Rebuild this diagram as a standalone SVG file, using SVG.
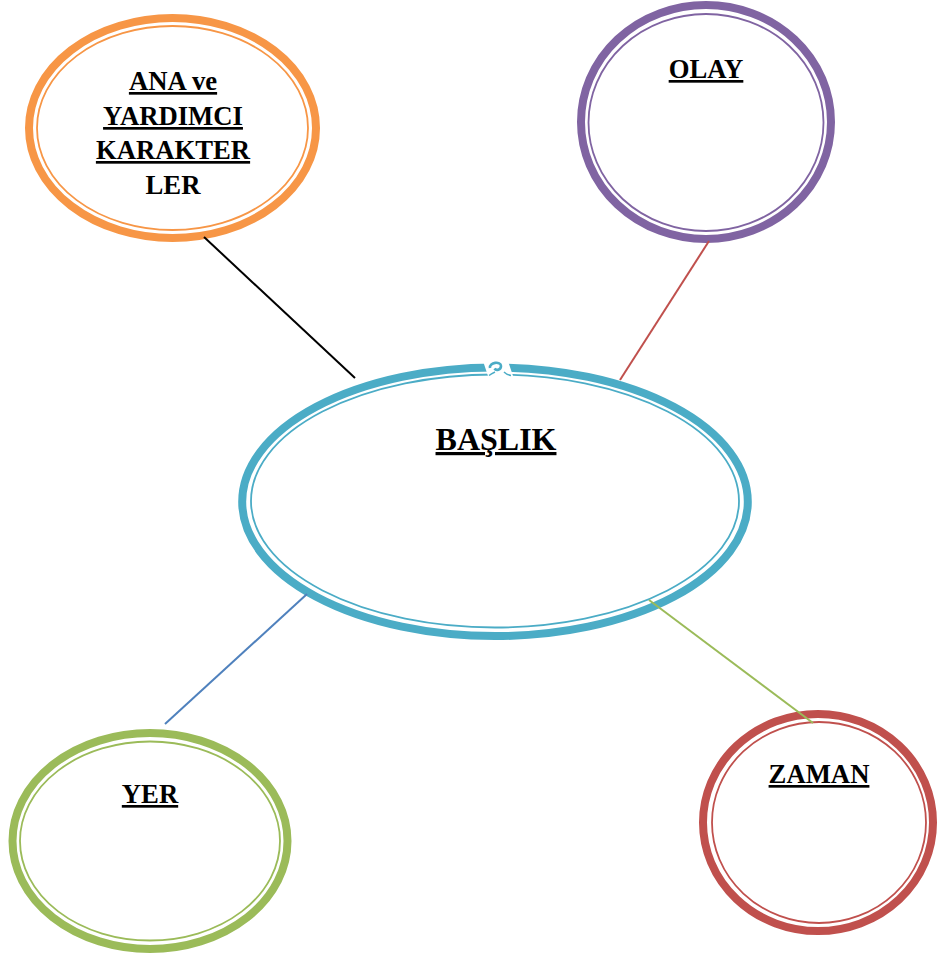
<svg xmlns="http://www.w3.org/2000/svg" width="937" height="955" viewBox="0 0 937 955">
  <style>
    .thick { fill: none; stroke-width: 8; }
    .thin { fill: none; stroke-width: 1.8; }
    .label { font-family: "Liberation Serif", "Times New Roman", serif; font-weight: bold; font-size: 26.7px; fill: #000; text-anchor: middle; }
    .ul { text-decoration: underline; }
    .title { font-size: 32px; }
    .conn { fill: none; stroke-width: 2; stroke-linecap: butt; }
  </style>
  <rect width="937" height="955" fill="#fff"/>

  <!-- central topic -->
  <g id="node-baslik">
    <ellipse class="thick" cx="495" cy="501.8" rx="252.8" ry="134.3" stroke="#4BACC6" fill="#fff"/>
    <ellipse class="thin" cx="495" cy="501" rx="244" ry="126.5" stroke="#4BACC6"/>
    <!-- seam where the double ring closes at the top -->
    <polygon points="482,358 507,358 514,379 489,379" fill="#fff"/>
    <path d="M490,368 C489,362 501,361 501,366 C501,370 496,371 494.5,368.5" fill="none" stroke="#4BACC6" stroke-width="2.6"/>
    <path d="M489,375.5 C491,374 493,373 495,372" fill="none" stroke="#4BACC6" stroke-width="1.5"/>
    <path d="M504,372 C506,374 508,375 511,375.5" fill="none" stroke="#4BACC6" stroke-width="1.5"/>
    <text class="label ul title" x="496" y="450">BAŞLIK</text>
  </g>

  <g id="node-karakterler">
    <ellipse class="thick" cx="172.5" cy="128" rx="143.5" ry="110" stroke="#F79646" fill="#fff"/>
    <ellipse class="thin" cx="172.5" cy="128" rx="135.5" ry="102" stroke="#F79646"/>
    <text class="label ul" x="173" y="90">ANA ve</text>
    <text class="label ul" x="173" y="125">YARDIMCI</text>
    <text class="label ul" x="173" y="159">KARAKTER</text>
    <text class="label" x="173" y="194">LER</text>
  </g>

  <g id="node-olay">
    <ellipse class="thick" cx="706" cy="122" rx="125" ry="117" stroke="#8064A2" fill="#fff"/>
    <ellipse class="thin" cx="706" cy="122.5" rx="117.5" ry="108.5" stroke="#8064A2"/>
    <text class="label ul" x="706" y="78">OLAY</text>
  </g>

  <g id="node-yer">
    <ellipse class="thick" cx="150" cy="841" rx="137.5" ry="108" stroke="#9BBB59" fill="#fff"/>
    <ellipse class="thin" cx="150" cy="841" rx="130" ry="99.5" stroke="#9BBB59"/>
    <text class="label ul" x="150" y="803">YER</text>
  </g>

  <g id="node-zaman">
    <ellipse class="thick" cx="818" cy="822.5" rx="115" ry="108.5" stroke="#C0504D" fill="#fff"/>
    <ellipse class="thin" cx="819" cy="822.5" rx="107" ry="100.5" stroke="#C0504D"/>
    <text class="label ul" x="819" y="783">ZAMAN</text>
  </g>

  <g id="connectors">
    <line class="conn" x1="204" y1="237" x2="355" y2="378" stroke="#000"/>
    <line class="conn" x1="709" y1="241" x2="620" y2="380" stroke="#C0504D"/>
    <line class="conn" x1="307" y1="594" x2="165" y2="724" stroke="#4F81BD"/>
    <line class="conn" x1="649" y1="600" x2="813" y2="723" stroke="#9BBB59"/>
  </g>
</svg>
